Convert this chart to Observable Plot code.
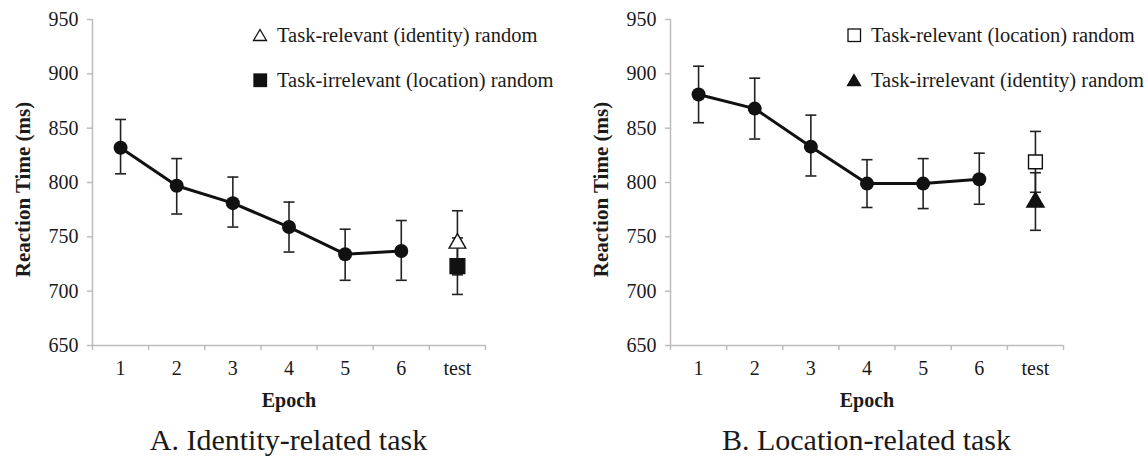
<!DOCTYPE html>
<html><head><meta charset="utf-8">
<script src="https://cdn.jsdelivr.net/npm/d3@7"></script>
<script src="https://cdn.jsdelivr.net/npm/@observablehq/plot@0.6"></script>
<style>
body{margin:0;background:#fff;font-family:"Liberation Serif","Times New Roman",serif;color:#1a1a1a}
#wrap{position:relative;width:1148px;height:459px;overflow:hidden;background:#fff}
.panel{position:absolute;top:0;height:459px}
.title{position:absolute;top:422px;font-size:30px;text-align:center;line-height:36px;white-space:nowrap}
.legend{position:absolute;font-size:20.5px;line-height:22px;white-space:nowrap;display:flex;align-items:center}
.legend svg{margin-right:9px}
</style></head><body><div id="wrap"></div>
<script>
// ---- data ----
const categories = ["1", "2", "3", "4", "5", "6", "test"];
const epochs = ["1", "2", "3", "4", "5", "6"];
const yTicks = [650, 700, 750, 800, 850, 900, 950];

// Panel A: identity-related task
const identityMean = [832, 797, 781, 759, 734, 737];
const identityLow  = [808, 771, 759, 736, 710, 710];
const identityHigh = [858, 822, 805, 782, 757, 765];
const identityTestSeries = ["Task-relevant (identity) random", "Task-irrelevant (location) random"];
const identityTestMean = [744, 723];
const identityTestLow  = [715, 697];
const identityTestHigh = [774, 749];

// Panel B: location-related task
const locationMean = [881, 868, 833, 799, 799, 803];
const locationLow  = [855, 840, 806, 777, 776, 780];
const locationHigh = [907, 896, 862, 821, 822, 827];
const locationTestSeries = ["Task-relevant (location) random", "Task-irrelevant (identity) random"];
const locationTestMean = [819, 782];
const locationTestLow  = [791, 756];
const locationTestHigh = [847, 809];

const titles = ["A. Identity-related task", "B. Location-related task"];
const xLabel = "Epoch";
const yLabel = "Reaction Time (ms)";

// ---- styles ----
const FONT = '"Liberation Serif","Times New Roman",serif';
const AXIS = "#bdbdbd";
const INK = "#111";
const TEXT = "#1a1a1a";

const capSymbol = {draw(ctx) { ctx.moveTo(-5.5, 0); ctx.lineTo(5.5, 0); }};

function symbolSvg(kind, filled) {
  const f = filled ? INK : "#fff";
  if (kind === "square") return `<svg width="16" height="16"><rect x="2" y="2" width="12.5" height="12.5" fill="${f}" stroke="${INK}" stroke-width="1.3"/></svg>`;
  return `<svg width="16" height="16"><polygon points="8,2.5 14.5,13.5 1.5,13.5" fill="${f}" stroke="${INK}" stroke-width="1.3"/></svg>`;
}

function makePanel(cfg) {
  const rows = epochs.map((e, i) => ({x: categories.indexOf(e) + 1, mean: cfg.mean[i], low: cfg.low[i], high: cfg.high[i]}));
  const tx = categories.indexOf("test") + 1;
  const testRows = cfg.testSeries.map((s, i) => ({x: tx, series: s, mean: cfg.testMean[i], low: cfg.testLow[i], high: cfg.testHigh[i], ...cfg.testStyle[i]}));
  const errRows = rows.concat(testRows);

  const chart = Plot.plot({
    width: cfg.width, height: 412,
    marginLeft: 92, marginRight: cfg.width - 92 - 393, marginTop: 19, marginBottom: 67,
    style: {fontFamily: FONT, fontSize: "20px", color: TEXT, background: "white", overflow: "visible"},
    x: {type: "linear", domain: [0.5, categories.length + 0.5], axis: null},
    y: {domain: [650, 950], axis: null},
    marks: [
      Plot.ruleY([650], {stroke: AXIS, strokeWidth: 1.5}),
      Plot.ruleX([0.5], {stroke: AXIS, strokeWidth: 1.5}),
      Plot.axisY({ticks: yTicks, tickSize: 5, tickPadding: 9, stroke: AXIS, strokeWidth: 1.5, fill: TEXT, label: null, fontSize: 20}),
      Plot.axisX({ticks: d3.range(0.5, categories.length + 1, 1), tickSize: 5, stroke: AXIS, strokeWidth: 1.5, tickFormat: () => "", label: null}),
      Plot.axisX({ticks: d3.range(1, categories.length + 1), tickSize: 0, tickPadding: 15, tickFormat: i => categories[i - 1], fill: TEXT, label: null, fontSize: 20}),
      Plot.text([yLabel], {frameAnchor: "left", textAnchor: "middle", lineAnchor: "middle", rotate: -90, dx: -69, dy: 7, fontWeight: "bold", fontSize: 21, fill: TEXT}),
      Plot.text([xLabel], {frameAnchor: "bottom", textAnchor: "middle", lineAnchor: "middle", dy: 55, fontWeight: "bold", fontSize: 20, fill: TEXT}),
      Plot.ruleX(errRows, {x: "x", y1: "low", y2: "high", stroke: "#222", strokeWidth: 1.6}),
      Plot.dot(errRows, {x: "x", y: "low", symbol: capSymbol, stroke: "#222", strokeWidth: 1.6}),
      Plot.dot(errRows, {x: "x", y: "high", symbol: capSymbol, stroke: "#222", strokeWidth: 1.6}),
      Plot.line(rows, {x: "x", y: "mean", stroke: INK, strokeWidth: 3}),
      Plot.dot(rows, {x: "x", y: "mean", r: 7, fill: INK}),
      ...testRows.map(d => Plot.dot([d], {x: "x", y: "mean", symbol: d.symbol, r: d.r, fill: d.filled ? INK : "#fff", stroke: INK, strokeWidth: 1.4}))
    ]
  });

  const div = document.createElement("div");
  div.className = "panel";
  div.style.left = cfg.left + "px";
  div.style.width = cfg.width + "px";
  div.appendChild(chart);

  testRows.forEach((d, i) => {
    const lg = document.createElement("div");
    lg.className = "legend";
    lg.style.left = cfg.legendLeft + "px";
    lg.style.top = (24 + i * 45) + "px";
    lg.innerHTML = symbolSvg(d.symbol, d.filled) + `<span>${d.series}</span>`;
    div.appendChild(lg);
  });

  const t = document.createElement("div");
  t.className = "title";
  t.style.left = "92px";
  t.style.width = "393px";
  t.textContent = cfg.title;
  div.appendChild(t);
  document.getElementById("wrap").appendChild(div);
}

makePanel({
  left: 0, width: 578, title: titles[0], legendLeft: 252,
  mean: identityMean, low: identityLow, high: identityHigh,
  testSeries: identityTestSeries, testMean: identityTestMean, testLow: identityTestLow, testHigh: identityTestHigh,
  testStyle: [{symbol: "triangle", filled: false, r: 6.2}, {symbol: "square", filled: true, r: 8.3}]
});
makePanel({
  left: 578, width: 570, title: titles[1], legendLeft: 268,
  mean: locationMean, low: locationLow, high: locationHigh,
  testSeries: locationTestSeries, testMean: locationTestMean, testLow: locationTestLow, testHigh: locationTestHigh,
  testStyle: [{symbol: "square", filled: false, r: 7.8}, {symbol: "triangle", filled: true, r: 6.4}]
});
</script></body></html>
